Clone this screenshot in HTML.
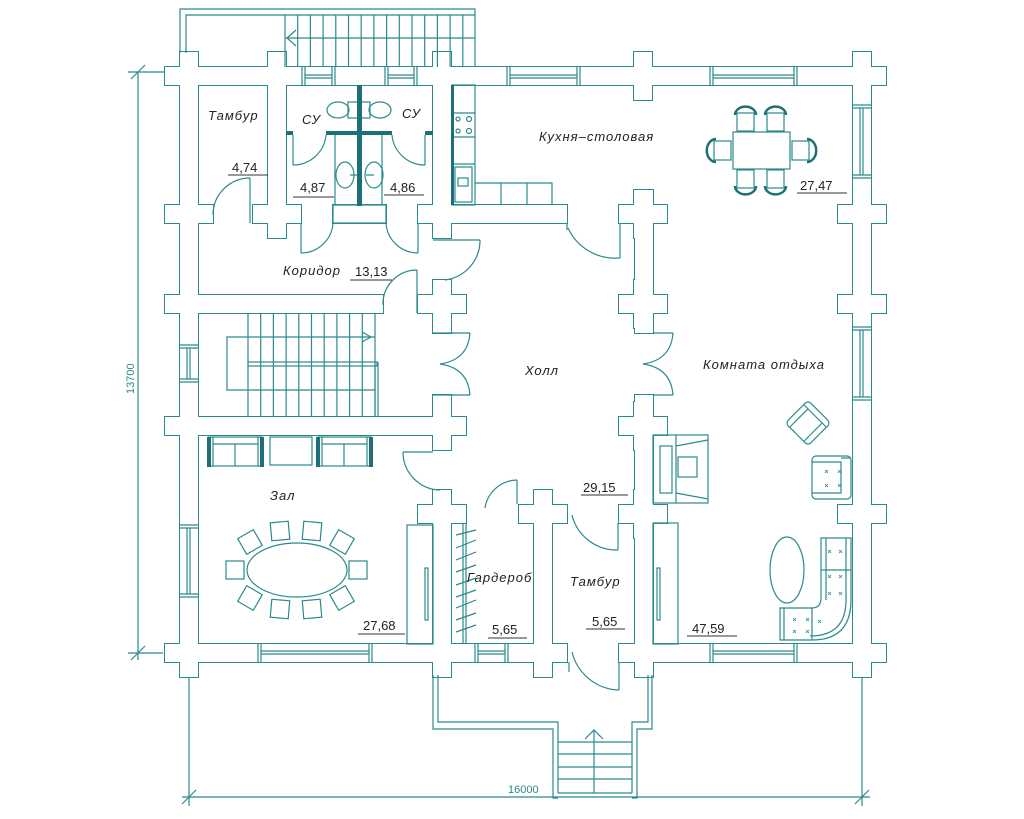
<!DOCTYPE html>
<html><head><meta charset="utf-8"><style>
html,body{margin:0;padding:0;background:#fff;}
svg{display:block;}
text{font-family:"Liberation Sans",sans-serif;fill:#222;}
.it{font-style:italic;font-size:13px;letter-spacing:1px;}
.num{font-size:13px;}
</style></head><body>
<svg width="1024" height="819" viewBox="0 0 1024 819" xmlns="http://www.w3.org/2000/svg">
<defs>
<g id="walls">
<rect x="180" y="67" width="691" height="18"/>
<rect x="180" y="67" width="18" height="595"/>
<rect x="180" y="644" width="387" height="18"/>
<rect x="619" y="644" width="252" height="18"/>
<rect x="853" y="67" width="18" height="595"/>
<rect x="268" y="67" width="18" height="156"/>
<rect x="433" y="67" width="18" height="156"/>
<rect x="333" y="205" width="53" height="18"/>
<rect x="451" y="205" width="116" height="18"/>
<rect x="198" y="295" width="185" height="18"/>
<rect x="198" y="417" width="235" height="18"/>
<rect x="635" y="190" width="18" height="143"/>
<rect x="635" y="395" width="18" height="267"/>
<rect x="433" y="504" width="18" height="158"/>
<rect x="534" y="504" width="18" height="158"/>
<rect x="433" y="328" width="18" height="5"/>
<rect x="433" y="395" width="18" height="7"/>
</g>
<g id="cr"><rect x="-24" y="-9" width="48" height="18"/><rect x="-9" y="-24" width="18" height="48"/></g>
<g id="allcr">
<use href="#cr" x="189" y="76"/><use href="#cr" x="862" y="76"/><use href="#cr" x="189" y="653"/><use href="#cr" x="862" y="653"/>
<use href="#cr" x="277" y="76"/><use href="#cr" x="442" y="76"/><use href="#cr" x="643" y="76"/>
<use href="#cr" x="189" y="214"/><use href="#cr" x="189" y="304"/><use href="#cr" x="189" y="426"/>
<use href="#cr" x="862" y="214"/><use href="#cr" x="862" y="304"/><use href="#cr" x="862" y="514"/>
<use href="#cr" x="442" y="653"/><use href="#cr" x="543" y="653"/><use href="#cr" x="644" y="653"/>
<use href="#cr" x="277" y="214"/><use href="#cr" x="442" y="214"/><use href="#cr" x="643" y="214"/>
<use href="#cr" x="442" y="304"/><use href="#cr" x="643" y="304"/>
<use href="#cr" x="442" y="426"/><use href="#cr" x="643" y="426"/>
<use href="#cr" x="442" y="514"/><use href="#cr" x="543" y="514"/><use href="#cr" x="643" y="514"/>
</g>
</defs>
<g fill="#fff" stroke="#2b8a8c" stroke-width="2">
<use href="#walls"/>
<use href="#allcr"/>
</g>
<g fill="#fff" stroke="none">
<use href="#walls"/>
<use href="#allcr"/>
</g>

<g fill="none" stroke="#2b8a8c" stroke-width="1.2">
<path d="M302,67V85M305,67V85M332,67V85M335,67V85M305,75H332M305,78H332"/>
<path d="M385,67V85M388,67V85M414,67V85M417,67V85M388,75H414M388,78H414"/>
<path d="M507,67V85M510,67V85M577,67V85M580,67V85M510,75H577M510,78H577"/>
<path d="M710,67V85M713,67V85M794,67V85M797,67V85M713,75H794M713,78H794"/>
<path d="M258,644V662M261,644V662M369,644V662M372,644V662M261,651H369M261,654H369"/>
<path d="M475,644V662M478,644V662M505,644V662M508,644V662M478,651H505M478,654H505"/>
<path d="M710,644V662M713,644V662M794,644V662M797,644V662M713,651H794M713,654H794"/>
<path d="M853,105H871M853,108H871M853,175H871M853,178H871M860,108V175M863,108V175"/>
<path d="M853,327H871M853,330H871M853,397H871M853,400H871M860,330V397M863,330V397"/>
<path d="M180,345H198M180,348H198M180,379H198M180,382H198M187,348V379M190,348V379"/>
<path d="M180,525H198M180,528H198M180,594H198M180,597H198M187,528V594M190,528V594"/>

<path d="M180,53V9H475V67M186,53V15H475"/>
<path d="M285,15V67M297.7,15V67M310.4,15V67M323.1,15V67M335.8,15V67M348.5,15V67M361.2,15V67M373.9,15V67M386.6,15V67M399.3,15V67M412,15V67M424.7,15V67M437.4,15V67M450.1,15V67M462.8,15V67"/>
<path d="M285,38H475M296,30L287,38L296,46"/>

<path d="M433,675V729H553V798H558M438,675V722H558V793"/>
<path d="M652,675V729H637V798H632M648,675V722H632V793"/>
<path d="M558,742H632M558,754H632M558,767H632M558,779H632M558,793H632M594,793V730M585,739L594,730L603,739"/>

<path d="M138,72V660M128,72H165M128,653H163M131,79L145,65M131,660L145,646"/>
<path d="M182,797H870M189,677V806M862,677V806M182,804L196,790M855,804L869,790"/>

<path d="M250,223V178M250,178A37,37 0 0 0 213,215"/>
<path d="M301,223V253M301,253A32,32 0 0 0 333,223M418,223V253M418,253A32,32 0 0 1 386,223"/>
<path d="M433,240H480M480,240A40,40 0 0 1 445,280"/>
<path d="M417,313V270M417,270A34,34 0 0 0 383,305"/>
<path d="M433,333H470M470,333Q468,360 440,364M433,395H470M470,395Q468,368 440,364"/>
<path d="M653,333H673M673,333Q671,360 643,364M653,395H673M673,395Q671,368 643,364"/>
<path d="M567,223V230M620,223V258M620,258A52,52 0 0 1 568,228"/>
<path d="M433,452H403M403,452A38,38 0 0 0 440,490"/>
<path d="M517,504V480M517,480A33,33 0 0 0 485,508"/>
<path d="M618,523V550M618,550A46,46 0 0 1 572,515"/>
<path d="M569,662V672M619,662V690M619,690A50,50 0 0 1 572,652"/>

<path d="M293,135V165M293,165A33,33 0 0 0 326,135M425,135V165M425,165A33,33 0 0 1 392,135M335,135V205M382,135V205"/>
<rect x="348" y="102" width="22" height="16"/>
<ellipse cx="338" cy="110" rx="11" ry="8"/><ellipse cx="380" cy="110" rx="11" ry="8"/>
<ellipse cx="345" cy="175" rx="9" ry="13"/><ellipse cx="374" cy="175" rx="9" ry="13"/>
<path d="M350,175H358M366,175H374"/>
<rect x="333" y="205" width="53" height="18"/>

<rect x="452" y="85" width="23" height="120"/>
<path d="M452,113H475M452,137H475M452,164H475"/>
<circle cx="458" cy="119" r="2"/><circle cx="469" cy="119" r="2.5"/><circle cx="458" cy="131" r="2"/><circle cx="469" cy="131" r="2.5"/>
<rect x="455" y="167" width="17" height="35"/><rect x="458" y="178" width="10" height="8"/>
<path d="M475,183H552V205M501,183V205M527,183V205"/>
<rect x="733" y="132" width="57" height="37"/>
<rect x="737" y="113" width="17" height="18"/><rect x="767" y="113" width="17" height="18"/>
<rect x="737" y="170" width="17" height="18"/><rect x="767" y="170" width="17" height="18"/>
<rect x="714" y="141" width="17" height="19"/><rect x="792" y="141" width="17" height="19"/>

<path d="M248,313V416M260.7,313V416M273.4,313V416M286.1,313V416M298.8,313V416M311.5,313V416M324.2,313V416M336.9,313V416M349.6,313V416M362.3,313V416M375,313V416"/>
<path d="M375,337H227V390H375"/>
<rect x="248" y="362" width="129" height="4"/><path d="M375,366V416M378,362V416"/>
<path d="M362,332L371,337L362,342"/>

<rect x="209" y="437" width="53" height="29"/><path d="M213,444H258M235,444V466M213,437V466M258,437V466"/>
<rect x="270" y="437" width="42" height="28"/>
<rect x="318" y="437" width="53" height="29"/><path d="M322,444H367M344,444V466M322,437V466M367,437V466"/>
<ellipse cx="297" cy="570" rx="50" ry="27"/>
<g transform="translate(250,542) rotate(-30)"><rect x="-9" y="-9" width="18" height="18"/></g>
<g transform="translate(280,531) rotate(-5)"><rect x="-9" y="-9" width="18" height="18"/></g>
<g transform="translate(312,531) rotate(5)"><rect x="-9" y="-9" width="18" height="18"/></g>
<g transform="translate(342,542) rotate(30)"><rect x="-9" y="-9" width="18" height="18"/></g>
<rect x="226" y="561" width="18" height="18"/><rect x="349" y="561" width="18" height="18"/>
<g transform="translate(250,598) rotate(30)"><rect x="-9" y="-9" width="18" height="18"/></g>
<g transform="translate(280,609) rotate(5)"><rect x="-9" y="-9" width="18" height="18"/></g>
<g transform="translate(312,609) rotate(-5)"><rect x="-9" y="-9" width="18" height="18"/></g>
<g transform="translate(342,598) rotate(-30)"><rect x="-9" y="-9" width="18" height="18"/></g>
<rect x="407" y="525" width="26" height="119"/><rect x="425" y="568" width="3" height="52"/>

<path d="M463,523V644M466,523V644"/>
<path d="M456,535L476,530M456,548L476,540M456,560L476,552M456,572L476,565M456,585L476,578M456,597L476,590M456,608L476,600M456,620L476,613M456,632L476,625"/>

<rect x="653" y="435" width="55" height="68"/><rect x="660" y="446" width="12" height="47"/>
<path d="M676,435V503M676,446L708,440M676,493L708,499"/><rect x="678" y="457" width="19" height="20"/>
<g transform="translate(808,423) rotate(45)"><rect x="-16" y="-16" width="32" height="32" rx="4"/><path d="M-16,-10H16M-10,-10V16M10,-10V16"/></g>
<rect x="812" y="456" width="39" height="43" rx="4"/><path d="M812,462H841V493H812M841,458H851"/>
<ellipse cx="787" cy="570" rx="17" ry="33"/>
<path d="M821,538H851V600Q851,640 812,640H780V608H812Q821,608 821,598Z"/>
<path d="M826,538V600M821,570H851M846,538V600Q846,636 810,636M784,608V640M812,608V640"/>
<rect x="653" y="523" width="25" height="121"/><rect x="657" y="568" width="3" height="52"/>
</g>
<g fill="#1d7077" stroke="none">
<rect x="357" y="85" width="5" height="121"/>
<rect x="326" y="131" width="66" height="4"/>
<rect x="286" y="131" width="7" height="4"/><rect x="425" y="131" width="8" height="4"/>
<rect x="451" y="85" width="3" height="120"/>
<rect x="207" y="437" width="4" height="30"/><rect x="260" y="437" width="4" height="30"/>
<rect x="316" y="437" width="4" height="30"/><rect x="369" y="437" width="4" height="30"/>
</g>
<g fill="none" stroke="#1d7077" stroke-width="2.5">
<path d="M735,115A10,8 0 0 1 756,115M765,115A10,8 0 0 1 786,115M735,186A10,8 0 0 0 756,186M765,186A10,8 0 0 0 786,186M716,139A8,10 0 0 0 716,162M807,139A8,10 0 0 1 807,162"/>
</g>
<g fill="none" stroke="#2b8a8c" stroke-width="0.8">
<path d="M825,470l3,3m0,-3l-3,3M838,470l3,3m0,-3l-3,3M825,484l3,3m0,-3l-3,3M838,484l3,3m0,-3l-3,3"/>
<path d="M828,550l3,3m0,-3l-3,3M839,550l3,3m0,-3l-3,3M828,575l3,3m0,-3l-3,3M839,575l3,3m0,-3l-3,3M828,592l3,3m0,-3l-3,3M839,592l3,3m0,-3l-3,3M793,618l3,3m0,-3l-3,3M806,618l3,3m0,-3l-3,3M793,630l3,3m0,-3l-3,3M806,630l3,3m0,-3l-3,3M818,620l3,3m0,-3l-3,3"/>
</g>

<g class="it">
<text x="208" y="120">Тамбур</text>
<text x="302" y="124">СУ</text>
<text x="402" y="118">СУ</text>
<text x="539" y="141">Кухня–столовая</text>
<text x="283" y="275">Коридор</text>
<text x="525" y="375">Холл</text>
<text x="703" y="369">Комната отдыха</text>
<text x="270" y="500">Зал</text>
<text x="467" y="582">Гардероб</text>
<text x="570" y="586">Тамбур</text>
</g>
<g class="num">
<text x="232" y="172">4,74</text>
<text x="300" y="192">4,87</text>
<text x="390" y="192">4,86</text>
<text x="800" y="190">27,47</text>
<text x="355" y="276">13,13</text>
<text x="583" y="492">29,15</text>
<text x="363" y="630">27,68</text>
<text x="492" y="634">5,65</text>
<text x="592" y="626">5,65</text>
<text x="692" y="633">47,59</text>
</g>
<g stroke="#333" stroke-width="1">
<path d="M228,175H268M293,197H334M384,195H424M797,193H847M350,280H392M581,495H628M358,634H405M488,638H527M586,629H625M687,636H737"/>
</g>
<g font-size="11">
<text x="508" y="793" style="fill:#2b8a8c">16000</text>
<text transform="translate(134,394) rotate(-90)" style="fill:#2b8a8c">13700</text>
</g>
</svg>
</body></html>
